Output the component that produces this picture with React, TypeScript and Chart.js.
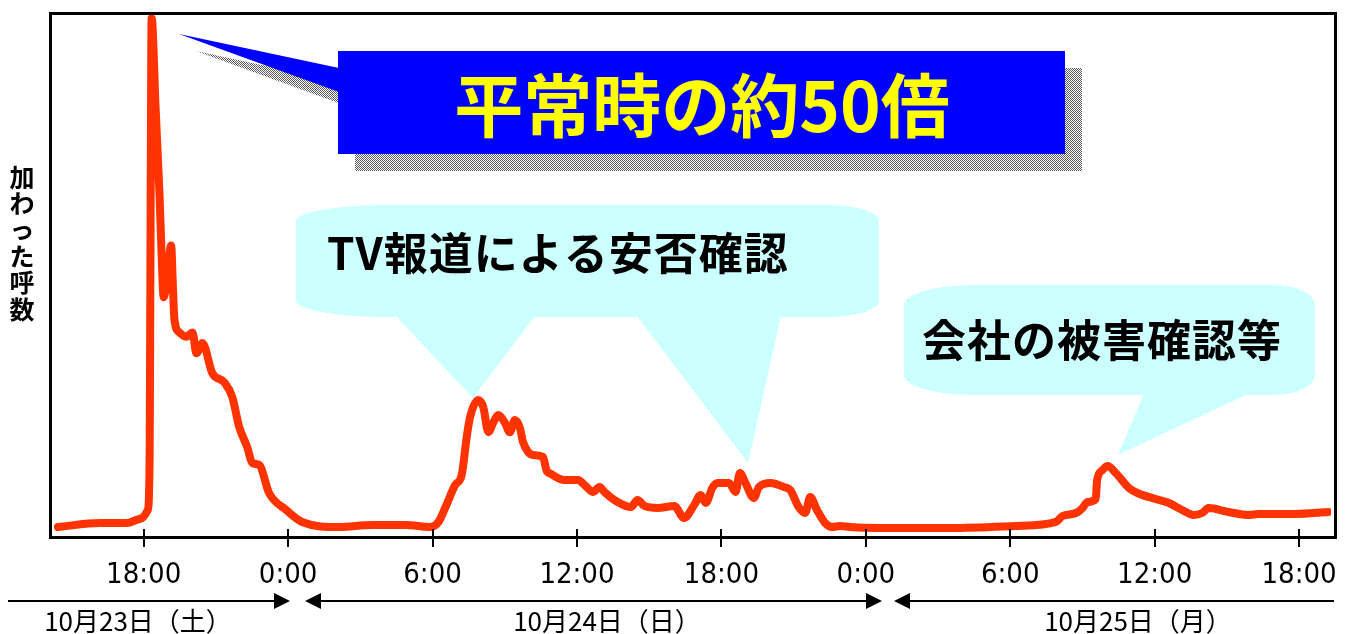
import React, { useEffect, useRef } from 'react';
import { Chart, registerables } from 'chart.js';

Chart.register(...registerables);

// Time axis: hours counted from 0:00 on 10/23 (so 24 = 0:00 on 10/24, 48 = 0:00 on 10/25)
const HOURS = [
  14.44, 16.18, 17.3, 17.83, 18.17, 18.25, 18.29, 18.33, 18.5, 18.66, 18.74, 18.83, 18.99, 19.14,
  19.22, 19.28, 19.49, 19.78, 20.03, 20.19, 20.44, 20.85, 21.35, 21.68, 21.97, 22.3, 22.51, 22.8,
  23.21, 23.92, 24.58, 26.11, 27.47, 28.88, 29.92, 30.25, 30.54, 30.94, 31.21, 31.42, 31.56, 31.9,
  32.11, 32.32, 32.52, 32.73, 33.01, 33.21, 33.42, 33.63, 33.76, 33.97, 34.18, 34.59, 34.73, 34.93,
  35.49, 36.04, 36.32, 36.66, 36.94, 37.14, 37.69, 38.24, 38.52, 38.8, 39.35, 40.04, 40.45, 40.87,
  41.14, 41.35, 41.62, 41.83, 42.32, 42.59, 42.77, 43.0, 43.35, 43.56, 44.04, 44.59, 44.86, 45.21,
  45.48, 45.69, 45.97, 46.31, 46.59, 46.93, 47.35, 48.72, 51.48, 54.24, 55.9, 56.17, 56.73, 57.0,
  57.21, 57.55, 57.61, 57.83, 58.04, 58.38, 58.93, 59.28, 60.04, 60.59, 61.14, 61.62, 61.97, 62.24,
  63.07, 63.9, 64.31, 65.83, 67.21,
];

// Completed calls, as a multiple of the normal level
const CALLS = [
  0.96, 1.35, 1.35, 1.73, 2.6, 8.38, 32.5, 50.0, 41.1, 32.9, 27.6, 23.1, 25.2, 28.1,
  23.8, 20.9, 19.7, 19.3, 19.7, 17.7, 18.7, 15.8, 14.9, 13.5, 10.6, 8.67, 7.13, 6.94,
  4.24, 2.6, 1.45, 0.96, 1.16, 1.16, 0.96, 1.45, 2.89, 5.01, 5.97, 9.63, 11.56, 13.2,
  12.5, 10.1, 11.0, 11.75, 11.0, 10.1, 11.27, 10.5, 9.15, 8.19, 7.9, 7.71, 6.45, 6.07,
  5.49, 5.49, 5.01, 4.34, 4.82, 4.34, 3.37, 2.89, 3.56, 2.99, 2.79, 2.99, 1.83, 3.08,
  4.05, 3.28, 4.72, 5.2, 5.2, 4.34, 6.17, 5.2, 3.76, 4.82, 5.2, 4.82, 4.53, 2.89,
  2.31, 3.85, 2.6, 1.35, 0.96, 1.06, 0.96, 0.87, 0.87, 1.06, 1.45, 2.02, 2.31, 2.79,
  3.37, 3.66, 5.49, 6.45, 6.84, 6.17, 4.72, 4.24, 3.66, 3.28, 2.6, 2.12, 2.31, 2.79,
  2.41, 2.12, 2.22, 2.22, 2.41,
];

const X_MIN = 14.15;
const X_MAX = 67.32;
const Y_MAX = 50.4;
const TICK_STEP_HOURS = 6;

const DAY_LABELS = ['10月23日（土）', '10月24日（日）', '10月25日（月）'];
const Y_TITLE = '加わった呼数';
const PEAK_NOTE = '平常時の約50倍';
const TV_NOTE = 'TV報道による安否確認';
const COMPANY_NOTE = '会社の被害確認等';

const LINE_COLOR = '#FF3300';
const JP = '"Noto Sans CJK JP", "Noto Sans", sans-serif';
const NARROW = '"Liberation Sans Narrow", "DejaVu Sans Condensed", "Liberation Sans", sans-serif';

function roundedBubble(
  ctx: CanvasRenderingContext2D,
  x0: number, y0: number, x1: number, y1: number,
  rxL: number, rxR: number, ry: number,
) {
  ctx.beginPath();
  ctx.moveTo(x0 + rxL, y0);
  ctx.lineTo(x1 - rxR, y0);
  ctx.ellipse(x1 - rxR, y0 + ry, rxR, ry, 0, -Math.PI / 2, 0);
  ctx.lineTo(x1, y1 - ry);
  ctx.ellipse(x1 - rxR, y1 - ry, rxR, ry, 0, 0, Math.PI / 2);
  ctx.lineTo(x0 + rxL, y1);
  ctx.ellipse(x0 + rxL, y1 - ry, rxL, ry, 0, Math.PI / 2, Math.PI);
  ctx.lineTo(x0, y0 + ry);
  ctx.ellipse(x0 + rxL, y0 + ry, rxL, ry, 0, Math.PI, Math.PI * 1.5);
  ctx.closePath();
}

function triangle(ctx: CanvasRenderingContext2D, pts: number[][]) {
  ctx.beginPath();
  ctx.moveTo(pts[0][0], pts[0][1]);
  ctx.lineTo(pts[1][0], pts[1][1]);
  ctx.lineTo(pts[2][0], pts[2][1]);
  ctx.closePath();
  ctx.fill();
}

function checkerPattern(ctx: CanvasRenderingContext2D) {
  const c = document.createElement('canvas');
  c.width = 2;
  c.height = 2;
  const p = c.getContext('2d')!;
  p.fillStyle = '#5a5a5a';
  p.fillRect(0, 0, 1, 1);
  p.fillRect(1, 1, 1, 1);
  return ctx.createPattern(c, 'repeat')!;
}

// Speech bubbles sit underneath the traffic line
const calloutPlugin = {
  id: 'callouts',
  beforeDatasetsDraw(chart: Chart) {
    const ctx = chart.ctx;
    ctx.save();

    // Blue label with a dithered drop shadow
    const shadow = checkerPattern(ctx);
    const dx = 17;
    const dy = 17;
    ctx.fillStyle = shadow;
    ctx.fillRect(338 + dx, 51 + dy, 727, 103);
    triangle(ctx, [[179 + dx, 34 + dy], [338 + dx, 68 + dy], [338 + dx, 92 + dy]]);
    ctx.fillStyle = '#0000FF';
    ctx.fillRect(338, 51, 727, 103);
    triangle(ctx, [[179, 34], [339, 68], [339, 92]]);
    ctx.font = `bold 69px ${JP}`;
    ctx.fillStyle = '#FFFF00';
    ctx.textAlign = 'center';
    ctx.textBaseline = 'middle';
    ctx.fillText(PEAK_NOTE, 702, 106);

    // Light cyan bubbles
    ctx.fillStyle = '#CCFFFF';
    roundedBubble(ctx, 296, 205, 879, 317, 90, 50, 16);
    ctx.fill();
    triangle(ctx, [[396, 316], [535, 316], [473, 398]]);
    triangle(ctx, [[637, 316], [781, 316], [748, 463]]);

    roundedBubble(ctx, 904, 285, 1315, 395, 70, 42, 20);
    ctx.fill();
    triangle(ctx, [[1144, 394], [1248, 394], [1118, 455]]);

    ctx.fillStyle = '#000000';
    ctx.textAlign = 'left';
    ctx.font = `bold 44px ${JP}`;
    (ctx as any).letterSpacing = '1px';
    ctx.fillText(TV_NOTE, 327, 253);
    ctx.fillText(COMPANY_NOTE, 922, 340);
    (ctx as any).letterSpacing = '0px';
    ctx.restore();
  },
};

// Plot frame, inner tick marks, vertical axis title and date ranges
const framePlugin = {
  id: 'frame',
  afterDraw(chart: Chart) {
    const ctx = chart.ctx;
    const xs = chart.scales.x;
    ctx.save();
    ctx.strokeStyle = '#000';
    ctx.lineWidth = 3;
    ctx.strokeRect(50.5, 13.5, 1285, 524);

    ctx.lineWidth = 2;
    xs.ticks.forEach((t) => {
      const px = Math.round(xs.getPixelForValue(t.value));
      ctx.beginPath();
      ctx.moveTo(px, 529);
      ctx.lineTo(px, 537);
      ctx.stroke();
    });

    ctx.fillStyle = '#000';
    ctx.font = `bold 25px ${JP}`;
    ctx.textAlign = 'center';
    ctx.textBaseline = 'middle';
    Array.from(Y_TITLE).forEach((ch, i) => {
      ctx.fillText(ch, 22, 177 + i * 26.4);
    });

    // Day spans with arrows
    const ay = 601;
    ctx.lineWidth = 2;
    const seg = (a: number, b: number) => {
      ctx.beginPath();
      ctx.moveTo(a, ay);
      ctx.lineTo(b, ay);
      ctx.stroke();
    };
    const headRight = (tip: number) => triangle(ctx, [[tip, ay], [tip - 16, ay - 8], [tip - 16, ay + 8]]);
    const headLeft = (tip: number) => triangle(ctx, [[tip, ay], [tip + 16, ay - 8], [tip + 16, ay + 8]]);
    seg(8, 276);
    headRight(290);
    seg(320, 868);
    headLeft(305);
    headRight(882);
    seg(910, 1334);
    headLeft(894);

    ctx.font = `26px ${JP}`;
    ctx.textBaseline = 'middle';
    const dayCenters = [138, 607, 1138];
    DAY_LABELS.forEach((lab, i) => ctx.fillText(lab, dayCenters[i], 621));
    ctx.restore();
  },
};

export default function App() {
  const ref = useRef<HTMLCanvasElement | null>(null);

  useEffect(() => {
    if (!ref.current) return;
    const points = HOURS.map((h, i) => ({ x: h, y: CALLS[i] }));
    const chart = new Chart(ref.current, {
      type: 'line',
      data: {
        datasets: [
          {
            data: points,
            borderColor: LINE_COLOR,
            borderWidth: 8,
            pointRadius: 0,
            cubicInterpolationMode: 'monotone',
            borderCapStyle: 'round',
            borderJoinStyle: 'round',
            fill: false,
          },
        ],
      },
      options: {
        animation: false,
        responsive: false,
        devicePixelRatio: 1,
        layout: { padding: { left: 51, top: 14, right: 12, bottom: 0 } },
        plugins: { legend: { display: false }, tooltip: { enabled: false } },
        scales: {
          x: {
            type: 'linear',
            min: X_MIN,
            max: X_MAX,
            border: { display: false },
            grid: {
              drawOnChartArea: false,
              drawTicks: true,
              tickLength: 10,
              color: '#000',
              lineWidth: 2,
            },
            ticks: {
              stepSize: TICK_STEP_HOURS,
              includeBounds: false,
              autoSkip: false,
              maxRotation: 0,
              padding: 11,
              color: '#000',
              font: { family: NARROW, size: 29 },
              callback: (v: any) => `${Number(v) % 24}:00`,
            },
            afterFit: (s: any) => {
              s.height = 97;
            },
          },
          y: {
            display: false,
            min: 0,
            max: Y_MAX,
          },
        },
      },
      plugins: [calloutPlugin, framePlugin],
    });
    return () => chart.destroy();
  }, []);

  return (
    <div style={{ position: 'fixed', left: 0, top: 0, width: 1348, height: 634, background: '#fff' }}>
      <canvas ref={ref} width={1348} height={634} />
    </div>
  );
}
